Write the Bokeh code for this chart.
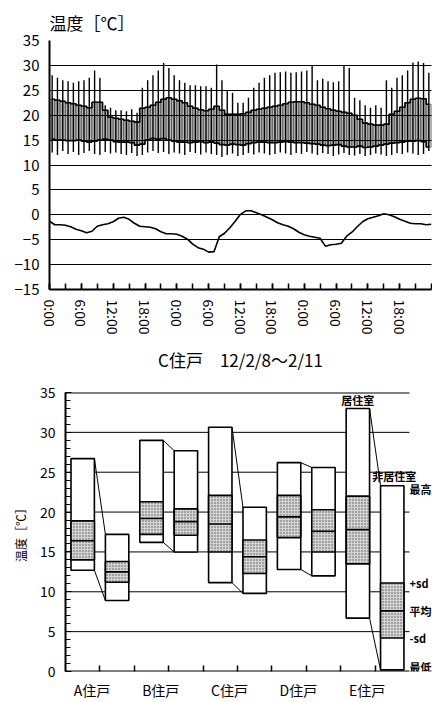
from bokeh.plotting import figure
from bokeh.models import Range1d, FixedTicker, Label, ColumnDataSource
from bokeh.embed import file_html
from bokeh.resources import INLINE

FONT = "Noto Sans CJK JP"

# ---------------- top chart data (hourly, 2/8 0:00 - 2/11 0:00) ----------------
hours = list(range(72))
body_hi = [23.2, 23.0, 22.8, 22.5, 22.3, 22.0, 21.8, 21.5, 22.6, 22.6, 21.0, 19.6,
           19.4, 19.2, 19.0, 18.8, 18.6, 21.4, 21.6, 22.0, 22.6, 23.2, 23.5, 23.2,
           22.9, 22.5, 21.8, 21.4, 21.1, 20.9, 21.2, 21.8, 21.0, 20.2, 20.2, 20.2,
           20.3, 20.6, 21.0, 21.2, 21.4, 21.6, 21.8, 22.0, 22.3, 22.6, 22.7, 22.7,
           22.5, 22.2, 22.0, 21.6, 21.3, 21.0, 20.8, 20.6, 20.4, 20.0, 19.2, 18.4,
           18.2, 18.0, 18.0, 18.2, 20.2, 20.8, 21.6, 22.5, 23.2, 23.4, 23.3, 22.2]
body_lo = [15.2, 15.0, 15.0, 14.9, 14.9, 15.0, 14.8, 14.6, 14.8, 15.0, 15.2, 15.0,
           14.7, 14.6, 14.6, 14.5, 14.0, 14.2, 15.0, 15.3, 15.2, 15.3, 15.0, 14.8,
           14.6, 14.6, 14.5, 14.6, 14.7, 14.5, 14.6, 14.4, 14.1, 14.0, 14.2, 14.1,
           14.0, 14.3, 14.5, 14.6, 14.6, 14.5, 14.5, 14.6, 14.7, 14.6, 14.5, 14.5,
           14.4, 14.3, 14.2, 14.0, 13.9, 14.0, 14.1, 13.8, 13.6, 13.6, 13.8, 13.5,
           13.6, 13.8, 14.0, 14.2, 14.4, 14.5, 14.6, 14.8, 14.8, 14.9, 14.7, 13.6]
wick_hi = [28.0, 27.5, 27.0, 26.8, 26.5, 26.8, 27.0, 27.5, 29.0, 27.5, 22.0, 21.5,
           21.0, 21.0, 20.8, 21.2, 20.5, 25.5, 27.0, 28.0, 29.0, 30.5, 29.5, 28.0,
           27.0, 26.5, 26.0, 26.0, 25.8, 25.8, 25.5, 30.2, 27.0, 25.0, 24.5, 22.5,
           22.5, 23.5, 25.5, 26.5, 27.5, 28.0, 28.5, 28.6, 28.8, 28.5, 28.6, 28.8,
           29.0, 30.1, 27.0, 27.3, 26.8, 26.6, 26.8, 29.9, 29.5, 23.5, 23.0, 22.0,
           21.5, 22.0, 21.5, 27.0, 25.5, 27.5, 28.0, 29.0, 30.6, 30.8, 30.5, 28.5]
wick_lo = [12.5, 12.0, 12.8, 12.2, 12.6, 12.0, 12.4, 12.8, 12.2, 12.0, 12.6, 12.3,
           12.5, 12.2, 12.0, 12.4, 11.8, 12.0, 12.5, 12.8, 12.4, 12.6, 12.2, 12.5,
           12.3, 12.0, 12.6, 12.4, 12.1, 12.5, 12.2, 12.0, 11.6, 12.0, 12.3, 11.8,
           12.0, 12.4, 12.1, 12.5, 12.3, 12.0, 12.2, 12.5, 12.3, 12.0, 12.4, 12.2,
           12.6, 12.3, 12.0, 12.4, 12.2, 11.8, 12.1, 12.4, 12.0, 11.9, 12.2, 11.8,
           12.0, 12.3, 12.1, 11.8, 12.0, 12.4, 12.2, 12.5, 12.3, 12.0, 12.2, 12.8]
out_hours = list(range(73))
outdoor = [-1.3, -2.0, -2.0, -2.1, -2.4, -2.9, -3.2, -3.6, -3.3, -2.3, -2.0, -1.8,
           -1.4, -0.7, -0.5, -0.9, -1.7, -2.3, -2.4, -2.5, -2.8, -3.4, -3.8, -3.8,
           -3.9, -4.3, -4.9, -5.9, -6.6, -6.9, -7.5, -7.4, -4.4, -3.7, -2.6, -1.3,
           0.1, 0.8, 0.8, 0.4, 0.0, -0.5, -1.0, -1.6, -2.0, -2.3, -2.8, -3.5,
           -4.0, -4.3, -4.5, -4.7, -6.3, -6.0, -5.9, -5.7, -4.3, -3.5, -2.4, -1.4,
           -0.8, -0.5, -0.2, 0.2, 0.0, -0.4, -0.9, -1.3, -1.7, -1.8, -1.8, -2.0, -1.9]
time_ticks = [0, 6, 12, 18, 24, 30, 36, 42, 48, 54, 60, 66]
time_labels = ["0:00", "6:00", "12:00", "18:00", "0:00", "6:00",
               "12:00", "18:00", "0:00", "6:00", "12:00", "18:00"]
top_title = "温度［℃］"
top_xlabel = "C住戸　12/2/8～2/11"

# ---------------- bottom chart data ----------------
dwellings = ["A住戸", "B住戸", "C住戸", "D住戸", "E住戸"]
rooms = ["居住室", "非居住室"]
t_max = [26.7, 17.2, 29.0, 27.7, 30.65, 20.6, 26.2, 25.6, 33.0, 23.3]
t_psd = [18.9, 13.8, 21.3, 20.4, 22.1, 16.5, 22.1, 20.3, 22.0, 11.1]
t_mean = [16.4, 12.5, 19.2, 18.8, 18.5, 14.4, 19.4, 17.6, 17.8, 7.6]
t_msd = [14.0, 11.2, 17.2, 17.1, 15.0, 12.3, 16.8, 15.0, 13.5, 4.2]
t_min = [12.7, 8.9, 16.2, 15.0, 11.15, 9.8, 12.8, 12.0, 6.7, 0.2]
legend_names = ["最高", "+sd", "平均", "-sd", "最低"]

# ================= TOP FIGURE =================
p1 = figure(width=432, height=375, x_range=Range1d(0, 72), y_range=Range1d(-15, 35),
            output_backend="svg", toolbar_location=None,
            min_border_left=49, min_border_right=1, min_border_top=40, min_border_bottom=80)
p1.outline_line_color = None
p1.background_fill_color = "white"
p1.border_fill_color = "white"
p1.title.text = top_title
p1.title.text_font = FONT
p1.title.text_font_size = "17px"
p1.title.text_font_style = "normal"
p1.title.text_color = "black"
p1.title.align = "left"
p1.title.standoff = 12
p1.xgrid.visible = False
p1.ygrid.ticker = FixedTicker(ticks=[-10, -5, 0, 5, 10, 15, 20, 25, 30, 35])
p1.ygrid.grid_line_color = "black"
p1.ygrid.grid_line_width = 1
p1.ygrid.level = "overlay"

p1.yaxis.ticker = FixedTicker(ticks=list(range(-15, 40, 5)))
p1.yaxis.major_tick_in = 0
p1.yaxis.major_tick_out = 0
p1.yaxis.minor_tick_line_color = None
p1.yaxis.axis_line_width = 2
p1.yaxis.axis_line_color = "black"
p1.yaxis.major_label_text_font = FONT
p1.yaxis.major_label_text_font_size = "15px"
p1.yaxis.major_label_text_color = "black"
p1.yaxis.major_label_standoff = 10

p1.xaxis.ticker = FixedTicker(ticks=time_ticks, minor_ticks=list(range(0, 73, 3)))
p1.xaxis.major_label_overrides = {t: l for t, l in zip(time_ticks, time_labels)}
p1.xaxis.major_label_orientation = "vertical"
p1.xaxis.major_tick_in = 6
p1.xaxis.major_tick_out = 0
p1.xaxis.minor_tick_in = 6
p1.xaxis.minor_tick_out = 0
p1.xaxis.major_tick_line_width = 1.5
p1.xaxis.minor_tick_line_width = 1.5
p1.xaxis.axis_line_width = 2
p1.xaxis.major_label_text_font = FONT
p1.xaxis.major_label_text_font_size = "14px"
p1.xaxis.major_label_text_color = "black"
p1.xaxis.major_label_standoff = 10
p1.xaxis.axis_label = top_xlabel
p1.xaxis.axis_label_text_font = FONT
p1.xaxis.axis_label_text_font_size = "17px"
p1.xaxis.axis_label_text_font_style = "normal"
p1.xaxis.axis_label_text_color = "black"
p1.xaxis.axis_label_standoff = 10

cx = [h + 0.5 for h in hours]
src1 = ColumnDataSource(dict(x=cx, bh=body_hi, bl=body_lo, wh=wick_hi, wl=wick_lo))
p1.vbar(x="x", top="bh", bottom="bl", width=1.0, source=src1,
        fill_color="#b4b4b4", line_color="#444444", line_width=0.7)
p1.segment(x0="x", y0="wl", x1="x", y1="wh", source=src1, line_color="black", line_width=1.4)
p1.step(x=cx, y=body_hi, mode="center", line_color="black", line_width=1.6)
p1.step(x=cx, y=body_lo, mode="center", line_color="black", line_width=1.6)
p1.line(x=out_hours, y=outdoor, line_color="black", line_width=1.6)

# ================= BOTTOM FIGURE =================
n_slots = len(t_max)
p2 = figure(width=432, height=327, x_range=Range1d(0, 10.67), y_range=Range1d(0, 35),
            output_backend="svg", toolbar_location=None,
            min_border_left=65, min_border_right=0, min_border_top=17, min_border_bottom=28)
p2.outline_line_color = None
p2.background_fill_color = "white"
p2.border_fill_color = "white"
p2.xgrid.visible = False
p2.ygrid.visible = False

grid_vals = [5, 10, 15, 20, 25, 30, 35]
grid_w = [1, 1, 1, 1, 1, 1, 2]
p2.segment(x0=[0] * len(grid_vals), y0=grid_vals, x1=[n_slots] * len(grid_vals), y1=grid_vals,
           line_color="black", line_width=grid_w)
p2.segment(x0=[0], y0=[0], x1=[n_slots], y1=[0], line_color="black", line_width=2)

p2.yaxis.ticker = FixedTicker(ticks=list(range(0, 40, 5)), minor_ticks=list(range(0, 36)))
p2.yaxis.major_tick_in = 6
p2.yaxis.major_tick_out = 0
p2.yaxis.minor_tick_in = 5
p2.yaxis.minor_tick_out = 0
p2.yaxis.axis_line_width = 2
p2.yaxis.major_label_text_font = FONT
p2.yaxis.major_label_text_font_size = "14px"
p2.yaxis.major_label_text_color = "black"
p2.yaxis.major_label_standoff = 10
p2.yaxis.axis_label = top_title
p2.yaxis.axis_label_text_font = FONT
p2.yaxis.axis_label_text_font_size = "12px"
p2.yaxis.axis_label_text_font_style = "normal"
p2.yaxis.axis_label_text_color = "black"
p2.yaxis.axis_label_standoff = 8

label_pos = [2 * i + 1 - 0.23 for i in range(len(dwellings))]
p2.xaxis.ticker = FixedTicker(ticks=label_pos, minor_ticks=list(range(1, 10)))
p2.xaxis.major_label_overrides = {pos: name for pos, name in zip(label_pos, dwellings)}
p2.xaxis.major_tick_in = 0
p2.xaxis.major_tick_out = 0
p2.xaxis.minor_tick_in = 6
p2.xaxis.minor_tick_out = 0
p2.xaxis.minor_tick_line_width = 1.5
p2.xaxis.axis_line_color = None
p2.xaxis.major_label_text_font = FONT
p2.xaxis.major_label_text_font_size = "14px"
p2.xaxis.major_label_text_color = "black"
p2.xaxis.major_label_standoff = 8

bx = [i + 0.5 for i in range(n_slots)]
half = 0.34
left = [x - half for x in bx]
right = [x + half for x in bx]
src2 = ColumnDataSource(dict(left=left, right=right, mx=t_max, ps=t_psd, mn=t_mean, ms=t_msd, lo=t_min))
p2.quad(left="left", right="right", bottom="lo", top="mx", source=src2,
        fill_color="white", line_color="black", line_width=1.6)
p2.quad(left="left", right="right", bottom="ms", top="ps", source=src2,
        fill_color="#d4d4d4", hatch_pattern="dot", hatch_color="#555555", hatch_scale=3,
        hatch_weight=1, line_color="black", line_width=1.6)
p2.segment(x0="left", y0="mn", x1="right", y1="mn", source=src2, line_color="black", line_width=1.6)

cx0, cy0, cx1, cy1 = [], [], [], []
for k in range(len(dwellings)):
    i, j = 2 * k, 2 * k + 1
    cx0 += [right[i], right[i]]
    cy0 += [t_max[i], t_min[i]]
    cx1 += [left[j], left[j]]
    cy1 += [t_max[j], t_min[j]]
p2.segment(x0=cx0, y0=cy0, x1=cx1, y1=cy1, line_color="black", line_width=1)

p2.add_layout(Label(x=bx[8], y=34.0, text=rooms[0], text_font=FONT, text_font_size="11px",
                    text_font_style="bold", text_align="center", text_baseline="middle",
                    text_color="black"))
p2.add_layout(Label(x=8.92, y=24.5, text=rooms[1], text_font=FONT, text_font_size="11px",
                    text_font_style="bold", text_align="left", text_baseline="middle",
                    text_color="black"))
legend_vals = [22.9, t_psd[9], t_mean[9], t_msd[9], 0.6]
for name, v in zip(legend_names, legend_vals):
    p2.add_layout(Label(x=n_slots, y=v, text=name, text_font=FONT, text_font_size="11px",
                        text_font_style="bold", text_align="left", text_baseline="middle",
                        text_color="black"))

open("out.html", "w").write(file_html([p1, p2], INLINE))
